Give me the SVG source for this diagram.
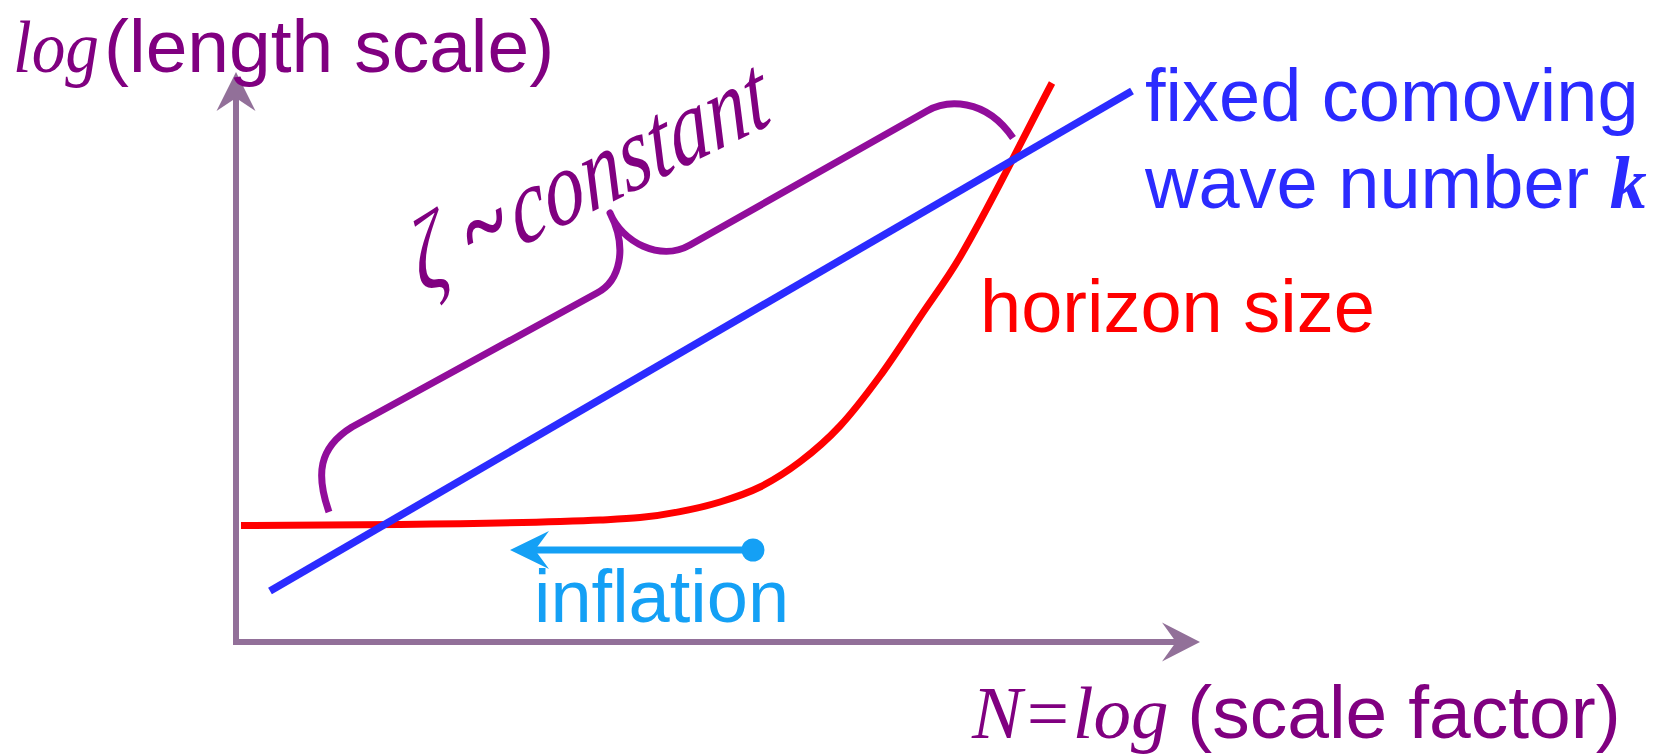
<svg xmlns="http://www.w3.org/2000/svg" width="1673" height="756" viewBox="0 0 1673 756">
<style>
.sans{font-family:"Liberation Sans",Arial,sans-serif;font-size:74px}
.serif{font-family:"Liberation Serif","Times New Roman",serif;font-style:italic;font-size:74px}
.axis{fill:none;stroke:#927099;stroke-width:6}
.axhead{fill:#927099}
</style>
<rect width="1673" height="756" fill="#ffffff"/>
<g id="axes">
<path class="axis" d="M236,98 L236,642 L1176,642" stroke-linejoin="miter"/>
<polygon class="axhead" points="236,72 216.5,111 236,98 255.5,111"/>
<polygon class="axhead" points="1200,642 1162,622.5 1176,642 1162,661.5"/>
</g>
<g id="label-y">
<text y="72" fill="#800080"><tspan class="serif" x="13" style="font-size:75px" textLength="86" lengthAdjust="spacingAndGlyphs">log</tspan><tspan class="sans" x="104" style="font-size:75px">(length scale)</tspan></text>
</g>
<g id="label-x">
<text y="738" fill="#800080"><tspan class="serif" x="972" style="font-size:75px">N=log </tspan><tspan class="sans" style="font-size:75px">(scale factor)</tspan></text>
</g>
<g id="connectors">
<path id="horizon-curve" fill="none" stroke="#ff0000" stroke-width="7" stroke-linecap="butt" d="M241,525.5 C294,525.2 347,525.2 400,524.5 C453.3,523.8 506.7,523.1 560,521.5 C573.3,521.1 586.7,520.7 600,520 C613.3,519.3 626.7,518.75 640,517.5 C653.3,516.25 666.7,514.2 680,511.6 C693.3,509 706.7,506.1 720,502 C733.3,497.9 746.7,493.7 760,487 C773.3,480.3 786.7,471.9 800,461.8 C813.3,451.7 826.7,440.3 840,426 C853.3,411.7 866.7,394.1 880,376 C893.3,357.9 906.7,336.9 920,317 C933.3,297.1 946.7,279.7 960,257 C990.7,204.9 1021.3,141 1052,83"/>
<line id="wave-line" x1="270" y1="591" x2="1132" y2="91" stroke="#2b2bff" stroke-width="7.5"/>
<path id="brace" fill="none" stroke="#910d9b" stroke-width="7" stroke-linecap="butt" stroke-linejoin="round" d="M329,512 C316,475 318,448 352,427 L597,293 C620,281 628,248 610,213 C622,242 660,262 690,245 L927,111 C946,100 985,97 1013,138"/>
<line id="inflation-arrow" x1="753" y1="550" x2="530" y2="550" stroke="#14a0f5" stroke-width="7"/>
<polygon points="510,550 549,531 535,550 549,569" fill="#14a0f5"/>
<circle cx="753" cy="550" r="11.5" fill="#14a0f5"/>
</g>
<g id="label-zeta">
<text class="serif" fill="#800080" transform="translate(422,295) scale(0.95,1.3) rotate(-19.7)"><tspan x="0" style="font-size:84px">ζ</tspan><tspan x="55" style="font-size:84px;font-weight:bold">~</tspan><tspan x="108.5" style="font-size:84px">constant</tspan></text>
</g>
<g id="label-wave">
<text class="sans" fill="#2b2bff"><tspan x="1145" y="121">fixed comoving</tspan><tspan x="1145" y="208">wave number <tspan class="serif" font-weight="bold">k</tspan></tspan></text>
</g>
<g id="label-horizon">
<text class="sans" fill="#ff0000" x="980" y="332">horizon size</text>
</g>
<g id="label-inflation">
<text class="sans" fill="#14a0f5" x="534" y="622">inflation</text>
</g>
</svg>
